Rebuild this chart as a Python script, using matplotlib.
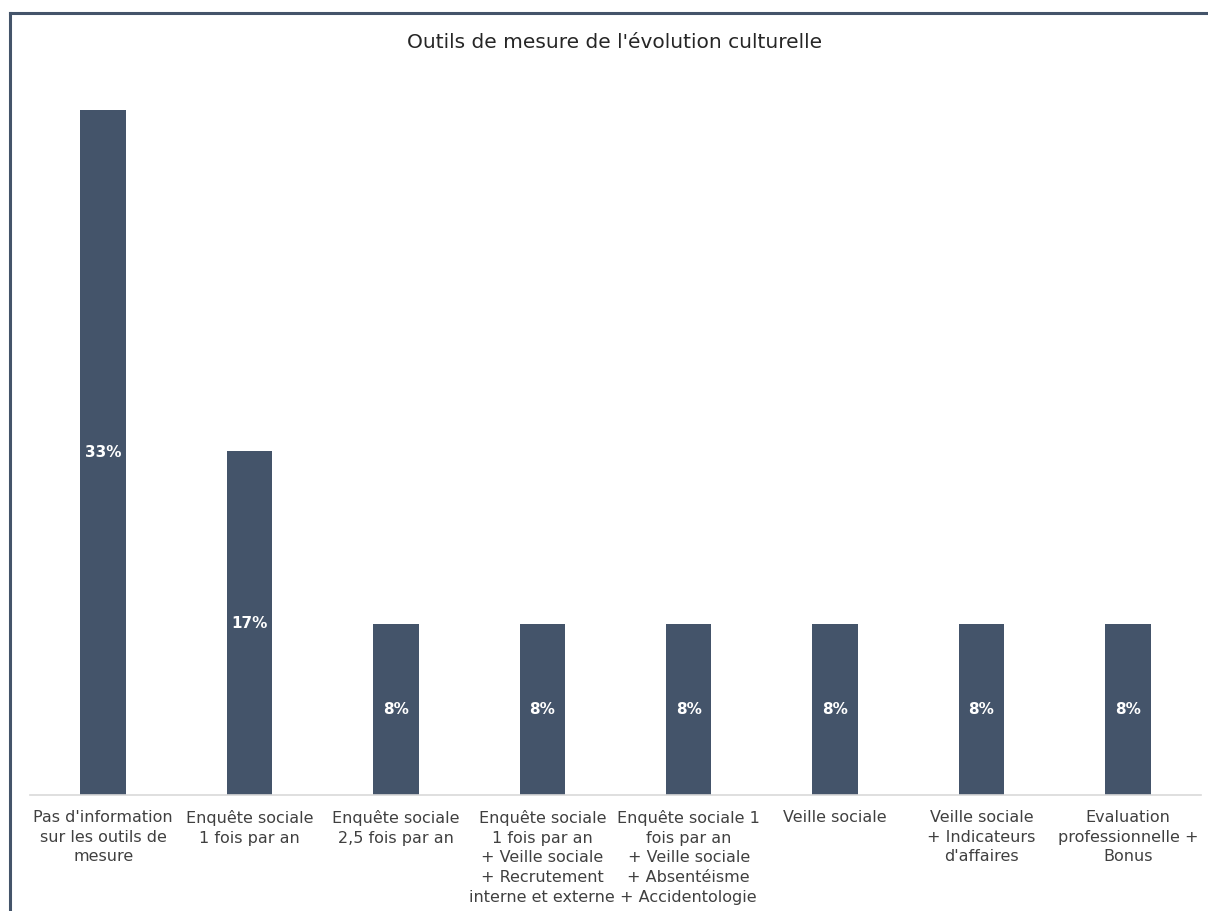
import matplotlib
matplotlib.use("Agg")
import matplotlib.pyplot as plt
from matplotlib.lines import Line2D

categories = [
    "Pas d'information\nsur les outils de\nmesure",
    "Enquête sociale\n1 fois par an",
    "Enquête sociale\n2,5 fois par an",
    "Enquête sociale\n1 fois par an\n+ Veille sociale\n+ Recrutement\ninterne et externe",
    "Enquête sociale 1\nfois par an\n+ Veille sociale\n+ Absentéisme\n+ Accidentologie",
    "Veille sociale",
    "Veille sociale\n+ Indicateurs\nd'affaires",
    "Evaluation\nprofessionnelle +\nBonus",
]
values = [33.3, 16.7, 8.3, 8.3, 8.3, 8.3, 8.3, 8.3]
value_labels = ["33%", "17%", "8%", "8%", "8%", "8%", "8%", "8%"]
title = "Outils de mesure de l'évolution culturelle"

plt.rcParams['font.family'] = ['DejaVu Sans']

fig = plt.figure(figsize=(12.08, 9.11), dpi=100)
ax = fig.add_axes([30/1208, (911-795)/911, 1171/1208, (795-75)/911])

x = range(len(values))
bars = ax.bar(x, values, width=0.31, color="#44546A", zorder=2)
for xi, v, lab in zip(x, values, value_labels):
    ax.text(xi, v/2, lab, ha="center", va="center", color="white",
            fontsize=11, fontweight="bold")

ax.set_xlim(-0.5, len(values)-0.5)
ax.set_ylim(0, 35)
ax.set_yticks([])
ax.set_xticks(list(x))
ax.set_xticklabels(categories, fontsize=11.5, color="#404040", linespacing=1.38)
ax.tick_params(axis="x", length=0, pad=11)
for s in ["top", "right", "left"]:
    ax.spines[s].set_visible(False)
ax.spines["bottom"].set_color("#D9D9D9")
ax.spines["bottom"].set_linewidth(1.2)

fig.text(615/1208, 1-42/911, title, ha="center", va="center",
         fontsize=14.5, color="#262626")

# outer frame (top and left visible)
fig.add_artist(Line2D([10/1208, 1], [1-13/911, 1-13/911], color="#44546A", lw=2.2,
                      transform=fig.transFigure))
fig.add_artist(Line2D([10/1208, 10/1208], [0, 1-13/911], color="#44546A", lw=2.2,
                      transform=fig.transFigure))

fig.savefig("out.png", dpi=100, facecolor="white")
